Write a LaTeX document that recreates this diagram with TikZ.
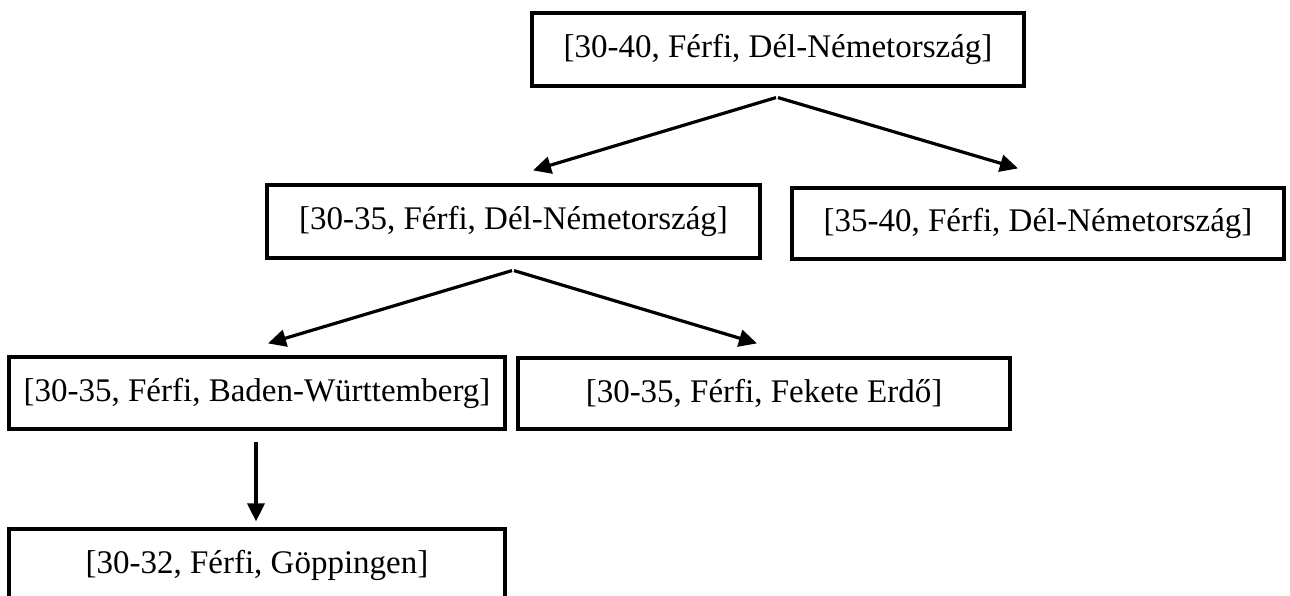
\documentclass[tikz,border=0pt]{standalone}
\usepackage{fontspec}
\setmainfont{Liberation Serif}
\usetikzlibrary{arrows.meta,calc}
\begin{document}
\begin{tikzpicture}[x=1pt,y=-1pt,
  box/.style={draw, line width=3.2pt, rectangle, inner sep=0pt,
    minimum height=72pt, font=\fontsize{33}{39}\selectfont},
  link/.style={line width=3.2pt, -{Triangle[length=18pt,width=17pt]}}]
\useasboundingbox (0,0) rectangle (1290,596);
\clip (0,0) rectangle (1290,596);

% hierarchy of generalised records
\node[box, minimum width=492pt, minimum height=73pt] (top)  at (778,49.5) {[30-40, Férfi, Dél-Németország]};
\node[box, minimum width=493pt, minimum height=73pt] (midl) at (513.5,221.5) {[30-35, Férfi, Dél-Németország]};
\node[box, minimum width=492pt, minimum height=71pt] (midr) at (1038,223.5) {[35-40, Férfi, Dél-Németország]};
\node[box, minimum width=496pt] (rl) at (257,393) {[30-35, Férfi, Baden-Württemberg]};
\node[box, minimum width=492pt, minimum height=71pt] (rr) at (764,393.5) {[30-35, Férfi, Fekete Erdő]};
\node[box, minimum width=496pt] (bot) at (257,565) {[30-32, Férfi, Göppingen]};

% specialisation arrows
\draw[link] ($(top.south)+(-2,10)$)  -- ($(midl.north)+(19.5,-13)$);
\draw[link] ($(top.south)+(0,10)$)   -- ($(midr.north)+(-20,-18)$);
\draw[link] ($(midl.south)+(-1.5,11)$) -- ($(rl.north)+(11,-12)$);
\draw[link] ($(midl.south)+(0.5,11)$)  -- ($(rr.north)+(-7,-13)$);
\draw[link] ($(rl.south)+(-1,11)$)   -- ($(bot.north)+(-1,-6)$);
\end{tikzpicture}
\end{document}
